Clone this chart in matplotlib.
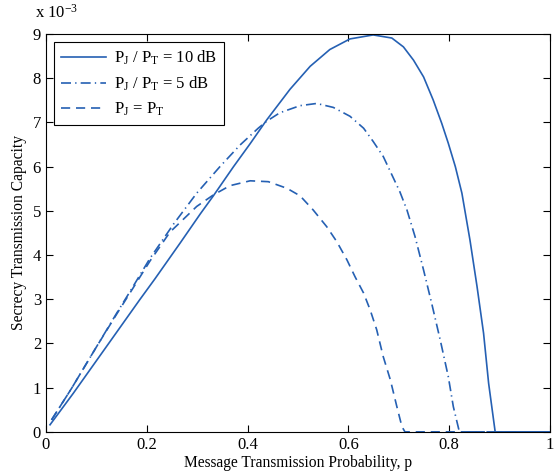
import numpy as np
import matplotlib
matplotlib.use('Agg')
import matplotlib.pyplot as plt

plt.rcParams['font.family'] = ['Liberation Serif', 'DejaVu Serif']
plt.rcParams['mathtext.fontset'] = 'custom'
plt.rcParams['mathtext.rm'] = 'Liberation Serif'
plt.rcParams['mathtext.it'] = 'Liberation Serif:italic'

# --- data (capacity in units of 1e-3)
p_10db = [0.008, 0.054, 0.120, 0.186, 0.216, 0.266, 0.306, 0.332, 0.372,
          0.405, 0.438, 0.484, 0.524, 0.563, 0.603, 0.649, 0.686, 0.709,
          0.729, 0.749, 0.768, 0.785, 0.798, 0.812, 0.825, 0.841, 0.855,
          0.868, 0.878, 0.891, 1.0]
c_10db = [0.16, 0.87, 1.93, 2.99, 3.46, 4.27, 4.93, 5.34, 6.00,
          6.52, 7.06, 7.75, 8.27, 8.65, 8.89, 8.98, 8.91, 8.71,
          8.41, 8.03, 7.51, 6.98, 6.53, 6.00, 5.40, 4.34, 3.29,
          2.23, 1.10, 0.0, 0.0]

p_5db = [0.011, 0.050, 0.100, 0.140, 0.167, 0.206, 0.253, 0.299, 0.345,
         0.385, 0.421, 0.438, 0.464, 0.504, 0.537, 0.570, 0.603, 0.630,
         0.649, 0.669, 0.702, 0.716, 0.732, 0.749, 0.765, 0.782, 0.798,
         0.808, 0.820, 1.0]
c_5db = [0.27, 0.97, 1.92, 2.68, 3.18, 3.92, 4.70, 5.40, 6.00,
         6.49, 6.87, 7.03, 7.22, 7.38, 7.43, 7.34, 7.14, 6.87,
         6.57, 6.23, 5.43, 5.02, 4.42, 3.66, 2.91, 2.08, 1.25,
         0.57, 0.0, 0.0]

p_eq = [0.011, 0.050, 0.100, 0.140, 0.167, 0.206, 0.246, 0.299, 0.332,
        0.365, 0.405, 0.441, 0.478, 0.504, 0.530, 0.557, 0.577, 0.597,
        0.613, 0.630, 0.643, 0.656, 0.669, 0.683, 0.696, 0.706, 0.712, 1.0]
c_eq = [0.27, 0.97, 1.92, 2.66, 3.15, 3.86, 4.52, 5.10, 5.36,
        5.57, 5.68, 5.66, 5.51, 5.34, 5.02, 4.64, 4.30, 3.89,
        3.51, 3.14, 2.76, 2.31, 1.70, 1.18, 0.57, 0.12, 0.0, 0.0]

labels = [r'P$_\mathrm{J}$ / P$_\mathrm{T}$ = 10 dB',
          r'P$_\mathrm{J}$ / P$_\mathrm{T}$ = 5 dB',
          r'P$_\mathrm{J}$ = P$_\mathrm{T}$']

color = '#2560b3'

fig = plt.figure(figsize=(5.54, 4.73), dpi=100)
ax = fig.add_axes([0.083, 0.087, 0.910, 0.841])

ax.plot(p_10db, np.array(c_10db) * 1e-3, '-', color=color, lw=1.2,
        label=labels[0])
ax.plot(p_5db, np.array(c_5db) * 1e-3, '-.', color=color, lw=1.2,
        label=labels[1], dashes=(6, 2.5, 0.8, 2.5))
ax.plot(p_eq, np.array(c_eq) * 1e-3, '--', color=color, lw=1.2,
        label=labels[2], dashes=(5.5, 3.5))

ax.set_xlim(0, 1)
ax.set_ylim(0, 9e-3)
ax.set_xticks([0, 0.2, 0.4, 0.6, 0.8, 1])
ax.set_xticklabels(['0', '0.2', '0.4', '0.6', '0.8', '1'])
ax.set_yticks(np.arange(0, 10) * 1e-3)
ax.set_yticklabels([str(i) for i in range(10)])
ax.tick_params(direction='in', top=True, right=True, labelsize=12, length=5)
ax.text(-0.022, 1.03, r'x 10$^{-3}$', transform=ax.transAxes, fontsize=12,
        ha='left', va='bottom')

ax.set_xlabel('Message Transmission Probability, p', fontsize=11.2, labelpad=2)
ax.set_ylabel('Secrecy Transmission Capacity', fontsize=11.2, labelpad=4)

leg = ax.legend(loc='upper left', fontsize=12, fancybox=False, framealpha=1,
                edgecolor='black', handlelength=2.7, handletextpad=0.5,
                borderaxespad=0.5, labelspacing=0.45)
leg.get_frame().set_linewidth(0.8)

fig.savefig('out.png', dpi=100)
